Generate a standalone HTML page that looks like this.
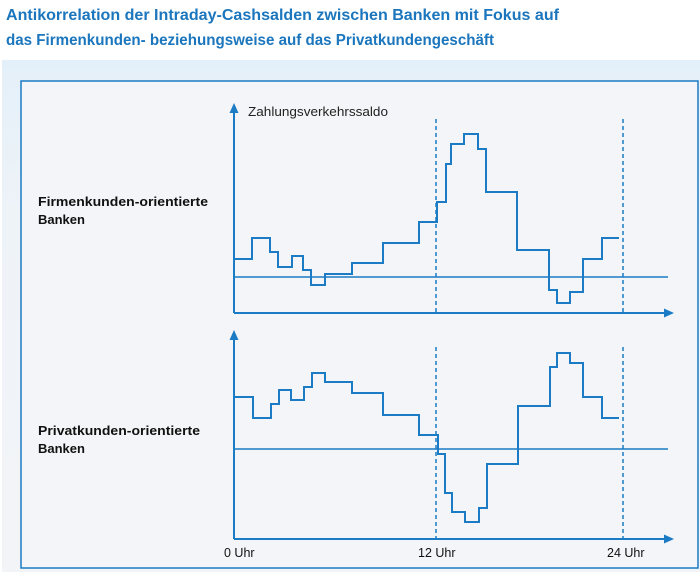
<!DOCTYPE html>
<html><head><meta charset="utf-8"><style>
html,body{margin:0;padding:0;background:#fff;}
svg{display:block;}
text{font-family:"Liberation Sans",sans-serif;}
</style></head><body>
<svg width="700" height="572" viewBox="0 0 700 572" xmlns="http://www.w3.org/2000/svg">
<defs>
<linearGradient id="bg" x1="0" y1="0" x2="0" y2="1">
<stop offset="0" stop-color="#e4f0f9"/><stop offset="0.3" stop-color="#eef3f8"/><stop offset="1" stop-color="#f3f4f7"/>
</linearGradient>
</defs>
<rect x="0" y="0" width="700" height="572" fill="#fff"/>
<rect x="2" y="60" width="698" height="512" fill="url(#bg)"/>
<rect x="21" y="81" width="677" height="487" fill="#f4f5f8" stroke="#1b7bc4" stroke-width="1.5"/>
<text x="6" y="20" font-size="16" font-weight="bold" fill="#1b76bd" textLength="553" lengthAdjust="spacingAndGlyphs">Antikorrelation der Intraday-Cashsalden zwischen Banken mit Fokus auf</text>
<text x="6" y="45" font-size="16" font-weight="bold" fill="#1b76bd" textLength="488" lengthAdjust="spacingAndGlyphs">das Firmenkunden- beziehungsweise auf das Privatkundengeschäft</text>

<g fill="none" stroke="#1b7bc4" stroke-width="2">
<!-- top panel -->
<line x1="234" y1="111" x2="234" y2="313"/>
<line x1="234" y1="313" x2="666" y2="313"/>
<line x1="234" y1="277" x2="668" y2="277" stroke-width="1.5"/>
<line x1="436" y1="119" x2="436" y2="313" stroke-dasharray="4,3" stroke-width="1.5"/>
<line x1="623" y1="119" x2="623" y2="313" stroke-dasharray="4,3" stroke-width="1.5"/>
<polyline points="234,259 252,259 252,238 270,238 270,252 278,252 278,267 292,267 292,256 303,256 303,270 311,270 311,285 325,285 325,274 352,274 352,263 383,263 383,243 419,243 419,222 437,222 437,202 446,202 446,164 451,164 451,144 464,144 464,134 478,134 478,149 486,149 486,192 517,192 517,250 549,250 549,290 557,290 557,303 570,303 570,292 583,292 583,259 602,259 602,238 619,238"/>
<!-- bottom panel -->
<line x1="234" y1="338" x2="234" y2="539"/>
<line x1="234" y1="539" x2="666" y2="539"/>
<line x1="234" y1="449" x2="668" y2="449" stroke-width="1.5"/>
<line x1="436" y1="347" x2="436" y2="539" stroke-dasharray="4,3" stroke-width="1.5"/>
<line x1="623" y1="347" x2="623" y2="539" stroke-dasharray="4,3" stroke-width="1.5"/>
<polyline points="234,397 253,397 253,418 271,418 271,404 279,404 279,390 291,390 291,400 304,400 304,387 312,387 312,373 325,373 325,382 352,382 352,393 383,393 383,415 419,415 419,435 438,435 438,454 445,454 445,493 452,493 452,512 465,512 465,522 479,522 479,508 487,508 487,464 518,464 518,406 550,406 550,367 557,367 557,353 570,353 570,363 583,363 583,397 602,397 602,418 619,418"/>
</g>
<g fill="#1b7bc4">
<polygon points="234,103 229.5,113 238.5,113"/>
<polygon points="674,313 664,308.5 664,317.5"/>
<polygon points="234,330 229.5,340 238.5,340"/>
<polygon points="674,539 664,534.5 664,543.5"/>
</g>
<text x="248" y="116" font-size="13" fill="#222" textLength="140" lengthAdjust="spacingAndGlyphs">Zahlungsverkehrssaldo</text>
<g font-size="13" font-weight="bold" fill="#111">
<text x="38" y="206" textLength="170" lengthAdjust="spacingAndGlyphs">Firmenkunden-orientierte</text>
<text x="38" y="224">Banken</text>
<text x="38" y="435" textLength="162" lengthAdjust="spacingAndGlyphs">Privatkunden-orientierte</text>
<text x="38" y="453">Banken</text>
</g>
<g font-size="12.5" fill="#111">
<text x="224" y="557">0 Uhr</text>
<text x="418" y="557">12 Uhr</text>
<text x="607" y="557">24 Uhr</text>
</g>
</svg>
</body></html>
